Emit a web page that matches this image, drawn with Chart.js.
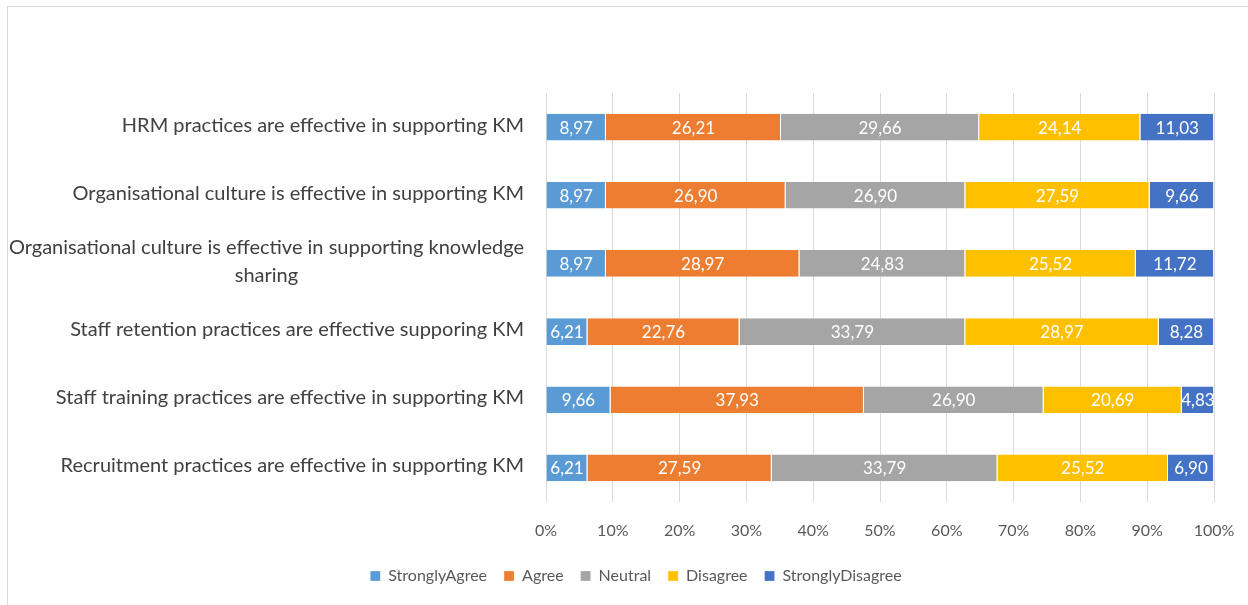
<!DOCTYPE html>
<html lang="en">
<head>
  <meta charset="UTF-8">
  <title>Knowledge management survey responses</title>
  <script src="https://cdn.jsdelivr.net/npm/chart.js"></script>
  <style>
    html, body { margin: 0; padding: 0; background: #fff; overflow: hidden; }
    #frame {
      position: absolute; left: 7px; top: 6px;
      width: 1260px; height: 620px;
      border: 1px solid #d9d9d9;
    }
    #wrap { position: absolute; left: 0; top: 0; width: 1248px; height: 605px; }
  </style>
</head>
<body>
  <div id="frame"></div>
  <div id="wrap"><canvas id="chart" width="1248" height="605"></canvas></div>

  <script>
    // Statements, top to bottom
    var statements = [
      'HRM practices are effective in supporting KM',
      'Organisational culture is effective in supporting KM',
      ['Organisational culture is effective in supporting knowledge', 'sharing'],
      'Staff retention practices are effective supporing KM',
      'Staff training practices are effective in supporting KM',
      'Recruitment practices are effective in supporting KM'
    ];

    // Percentage of answers per statement
    var stronglyAgree    = [8.97, 8.97, 8.97, 6.21, 9.66, 6.21];
    var agree            = [26.21, 26.90, 28.97, 22.76, 37.93, 27.59];
    var neutral          = [29.66, 26.90, 24.83, 33.79, 26.90, 33.79];
    var disagree         = [24.14, 27.59, 25.52, 28.97, 20.69, 25.52];
    var stronglyDisagree = [11.03, 9.66, 11.72, 8.28, 4.83, 6.90];

    var xTicks = [0, 10, 20, 30, 40, 50, 60, 70, 80, 90, 100];

    var FONT = 'Lato, "Open Sans", sans-serif';
    var PAD_LEFT = 58;

    function series(label, values, color) {
      return {
        label: label,
        data: values,
        backgroundColor: color,
        borderColor: '#ffffff',
        borderWidth: { top: 0, bottom: 0, left: 0, right: 1 },
        borderSkipped: false,
        barPercentage: 0.39,
        categoryPercentage: 1
      };
    }

    // white value labels in the middle of each segment
    var valueLabels = {
      id: 'valueLabels',
      afterDatasetsDraw: function(chart) {
        var ctx = chart.ctx;
        ctx.save();
        ctx.font = '17px ' + FONT;
        ctx.fillStyle = '#ffffff';
        ctx.textAlign = 'center';
        ctx.textBaseline = 'middle';
        chart.data.datasets.forEach(function(ds, i) {
          var meta = chart.getDatasetMeta(i);
          meta.data.forEach(function(bar, j) {
            var txt = ds.data[j].toFixed(2).replace('.', ',');
            ctx.fillText(txt, (bar.x + bar.base) / 2, bar.y + 1);
          });
        });
        ctx.restore();
      }
    };

    // category labels: right aligned block, extra lines centred under the first
    var categoryLabels = {
      id: 'categoryLabels',
      afterDraw: function(chart) {
        var ctx = chart.ctx;
        var yScale = chart.scales.y;
        var right = chart.chartArea.left - 22;
        var lineH = 28;
        ctx.save();
        ctx.font = '20px ' + FONT;
        ctx.fillStyle = '#404040';
        ctx.textBaseline = 'middle';
        ctx.textAlign = 'center';
        statements.forEach(function(lab, i) {
          var lines = Array.isArray(lab) ? lab : [lab];
          var w = Math.max.apply(null, lines.map(function(l) { return ctx.measureText(l).width; }));
          var cx = right - w / 2;
          var yc = yScale.getPixelForValue(i);
          var y0 = yc - 2 - (lines.length - 1) * lineH / 2;
          lines.forEach(function(l, k) {
            ctx.fillText(l, cx, y0 + k * lineH);
          });
        });
        ctx.restore();
      }
    };

    new Chart(document.getElementById('chart'), {
      type: 'bar',
      data: {
        labels: statements,
        datasets: [
          series('StronglyAgree', stronglyAgree, '#5b9bd5'),
          series('Agree', agree, '#ed7d31'),
          series('Neutral', neutral, '#a5a5a5'),
          series('Disagree', disagree, '#ffc000'),
          series('StronglyDisagree', stronglyDisagree, '#4472c4')
        ]
      },
      options: {
        indexAxis: 'y',
        responsive: false,
        animation: false,
        layout: { padding: { left: PAD_LEFT, right: 34, top: 93, bottom: 11 } },
        scales: {
          x: {
            stacked: true,
            min: 0,
            max: 100,
            afterBuildTicks: function(scale) {
              scale.ticks = xTicks.map(function(v) { return { value: v }; });
            },
            afterFit: function(scale) {
              scale.height = 49;
              scale.paddingLeft = 0;
              scale.paddingRight = 0;
            },
            ticks: {
              padding: 19,
              maxRotation: 0,
              color: '#595959',
              font: { family: FONT, size: 16 },
              callback: function(v) { return v + '%'; }
            },
            grid: { color: '#d9d9d9', lineWidth: 1, drawTicks: false },
            border: { display: false }
          },
          y: {
            stacked: true,
            afterFit: function(scale) { scale.width = 546 - PAD_LEFT; },
            ticks: { display: false },
            grid: { display: false },
            border: { display: false }
          }
        },
        plugins: {
          legend: {
            position: 'bottom',
            labels: {
              boxWidth: 10,
              boxHeight: 10,
              padding: 17,
              color: '#595959',
              font: { family: FONT, size: 16 }
            }
          },
          tooltip: { enabled: false }
        }
      },
      plugins: [valueLabels, categoryLabels]
    });
  </script>
</body>
</html>
